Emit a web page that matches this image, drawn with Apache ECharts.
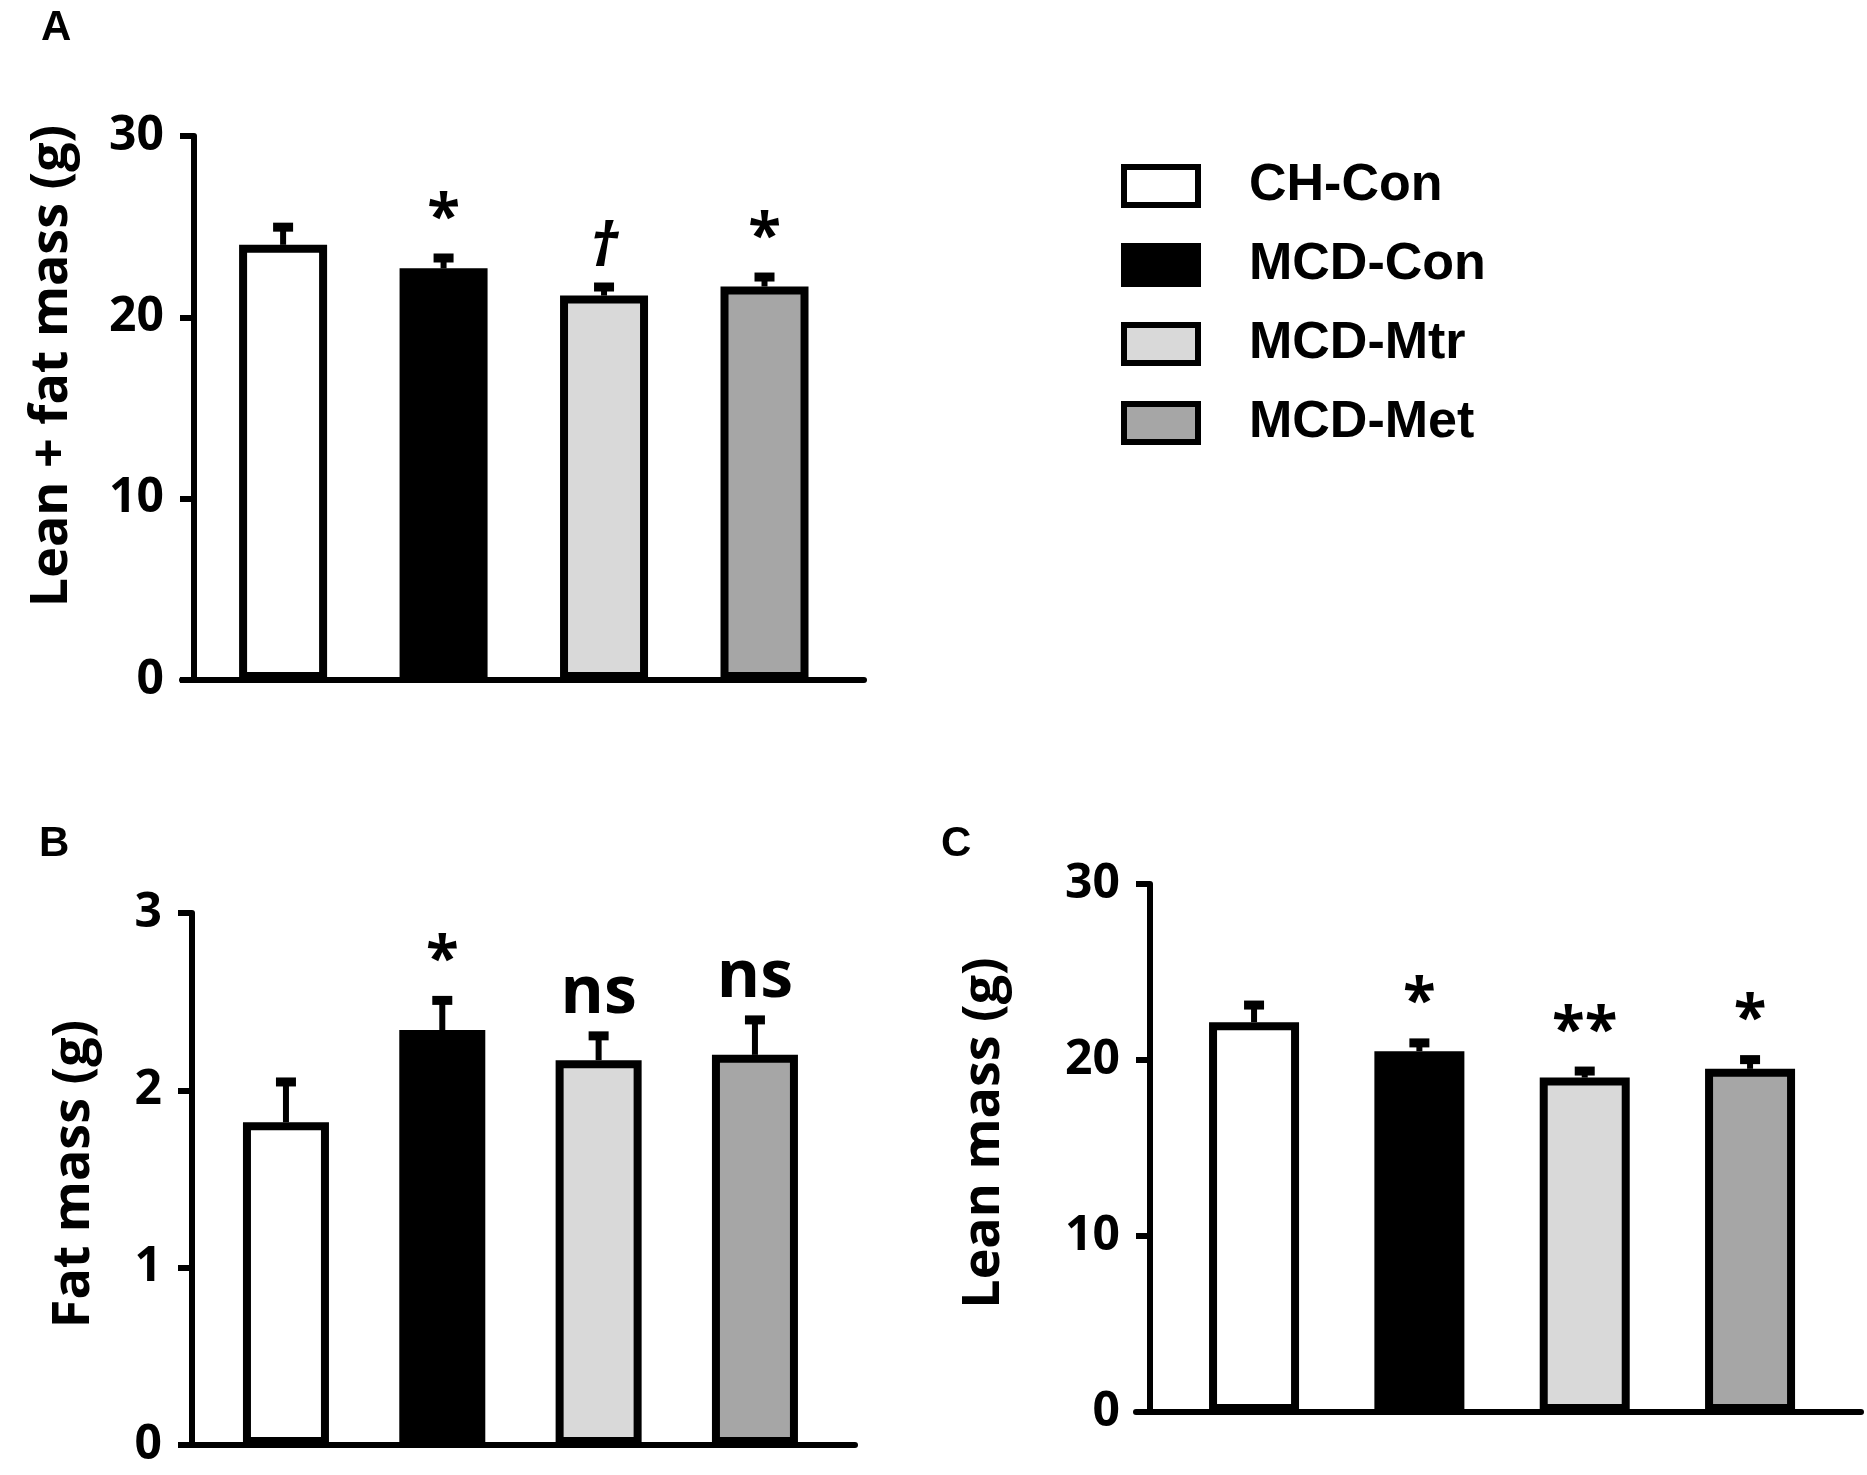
<!DOCTYPE html>
<html>
<head>
<meta charset="utf-8">
<script src="https://cdn.jsdelivr.net/npm/echarts@6/dist/echarts.min.js"></script>
<style>
html,body{margin:0;padding:0;background:#fff;}
#chart{width:1867px;height:1475px;}
</style>
</head>
<body>
<div id="chart"></div>
<script>
// ---- data ----
const groups = ['CH-Con', 'MCD-Con', 'MCD-Mtr', 'MCD-Met'];
const groupColors = ['#ffffff', '#000000', '#d9d9d9', '#a6a6a6'];

const totalMean = [24.0, 22.7, 21.2, 21.7];
const totalErr  = [1.0, 0.6, 0.5, 0.55];
const totalSig  = ['', '*', '\u2020', '*'];

const fatMean = [1.82, 2.34, 2.17, 2.20];
const fatErr  = [0.23, 0.17, 0.14, 0.20];
const fatSig  = ['', '*', 'ns', 'ns'];

const leanMean = [22.15, 20.5, 19.0, 19.5];
const leanErr  = [1.0, 0.5, 0.4, 0.55];
const leanSig  = ['', '*', '**', '*'];

const totalTicks = [0, 10, 20, 30];
const fatTicks = [0, 1, 2, 3];
const leanTicks = [0, 10, 20, 30];

// ---- layout ----
const panels = [
  {mean: totalMean, err: totalErr, sig: totalSig, ticks: totalTicks, name: 'Lean + fat mass (g)',
   grid: {left: 182, top: 136, width: 682, height: 544}, xMin: -0.63, xMax: 3.62, offset: -12, nameGap: 116, namePad: 84, barWidth: 88},
  {mean: fatMean, err: fatErr, sig: fatSig, ticks: fatTicks, name: 'Fat mass (g)',
   grid: {left: 182, top: 913, width: 673, height: 532}, xMin: -0.665, xMax: 3.64, offset: -10, nameGap: 92, namePad: 10, barWidth: 86},
  {mean: leanMean, err: leanErr, sig: leanSig, ticks: leanTicks, name: 'Lean mass (g)',
   grid: {left: 1136, top: 884, width: 725, height: 528}, xMin: -0.714, xMax: 3.671, offset: -14, nameGap: 140, namePad: 30, barWidth: 90}
];

const chart = echarts.init(document.getElementById('chart'), null, {renderer: 'canvas'});

const grids = [], xAxes = [], yAxes = [], series = [];
panels.forEach((p, pi) => {
  grids.push(Object.assign({containLabel: false}, p.grid));
  xAxes.push({
    type: 'value', gridIndex: pi, min: p.xMin, max: p.xMax,
    axisLine: {show: true, onZero: false, lineStyle: {color: '#000', width: 6}},
    axisTick: {show: false}, axisLabel: {show: false}, splitLine: {show: false}
  });
  const tmax = p.ticks[p.ticks.length - 1];
  yAxes.push({
    type: 'value', gridIndex: pi, min: p.ticks[0], max: tmax, interval: p.ticks[1] - p.ticks[0],
    offset: p.offset,
    name: p.name, nameLocation: 'middle', nameGap: p.nameGap,
    nameTextStyle: {fontFamily: 'Open Sans', fontWeight: 'bold', fontSize: 52, color: '#000', padding: [0, 0, 0, p.namePad]},
    axisLine: {show: true, onZero: false, lineStyle: {color: '#000', width: 6}},
    axisTick: {show: true, length: 14, lineStyle: {color: '#000', width: 6}},
    axisLabel: {margin: 30, fontFamily: 'Open Sans', fontWeight: 'bold', fontSize: 48, color: '#000'},
    splitLine: {show: false}
  });
  groups.forEach((g, gi) => {
    series.push({
      type: 'bar', name: g, xAxisIndex: pi, yAxisIndex: pi,
      barWidth: p.barWidth, barGap: '-100%',
      itemStyle: {color: groupColors[gi], borderColor: '#000', borderWidth: 8},
      data: [[gi, p.mean[gi]]],
      z: 2
    });
  });
  const sig = p.sig;
  series.push({
    type: 'custom', name: 'err' + pi, xAxisIndex: pi, yAxisIndex: pi, z: 3,
    data: p.mean.map((m, i) => [i, m, p.err[i]]),
    renderItem: function (params, api) {
      const i = api.value(0), m = api.value(1), e = api.value(2);
      const b = api.coord([i, m]);
      const t = api.coord([i, m + e]);
      const s = sig[params.dataIndex];
      const italic = s === '\u2020';
      const children = [
        {type: 'line', shape: {x1: b[0], y1: b[1], x2: t[0], y2: t[1]}, style: {stroke: '#000', lineWidth: 6}},
        {type: 'rect', shape: {x: t[0] - 10, y: t[1] - 4, width: 20, height: 9}, style: {fill: '#000'}}
      ];
      if (s) {
        children.push({
          type: 'text',
          style: {
            text: s, x: t[0], y: t[1] - 8,
            align: 'center', verticalAlign: 'bottom',
            textAlign: 'center', textVerticalAlign: 'bottom',
            font: (italic ? 'italic ' : '') + 'bold ' + (s === 'ns' ? 66 : 60) + 'px "Open Sans"',
            fill: '#000'
          }
        });
      }
      return {type: 'group', children: children};
    }
  });
});

const option = {
  backgroundColor: '#fff',
  animation: false,
  title: [
    {text: 'A', left: 36, top: 2, textStyle: {fontFamily: 'Liberation Sans', fontWeight: 'bold', fontSize: 42, color: '#000'}},
    {text: 'B', left: 34, top: 818, textStyle: {fontFamily: 'Liberation Sans', fontWeight: 'bold', fontSize: 42, color: '#000'}},
    {text: 'C', left: 936, top: 818, textStyle: {fontFamily: 'Liberation Sans', fontWeight: 'bold', fontSize: 42, color: '#000'}}
  ],
  legend: {
    data: groups, orient: 'vertical', left: 1116, top: 155,
    itemWidth: 74, itemHeight: 38, itemGap: 27,
    icon: 'rect',
    itemStyle: {borderColor: '#000', borderWidth: 6},
    textStyle: {fontFamily: 'Liberation Sans', fontWeight: 'bold', fontSize: 52, color: '#000', padding: [0, 0, 0, 46]},
    selectedMode: false
  },
  grid: grids,
  xAxis: xAxes,
  yAxis: yAxes,
  series: series
};
chart.setOption(option);
</script>
</body>
</html>
